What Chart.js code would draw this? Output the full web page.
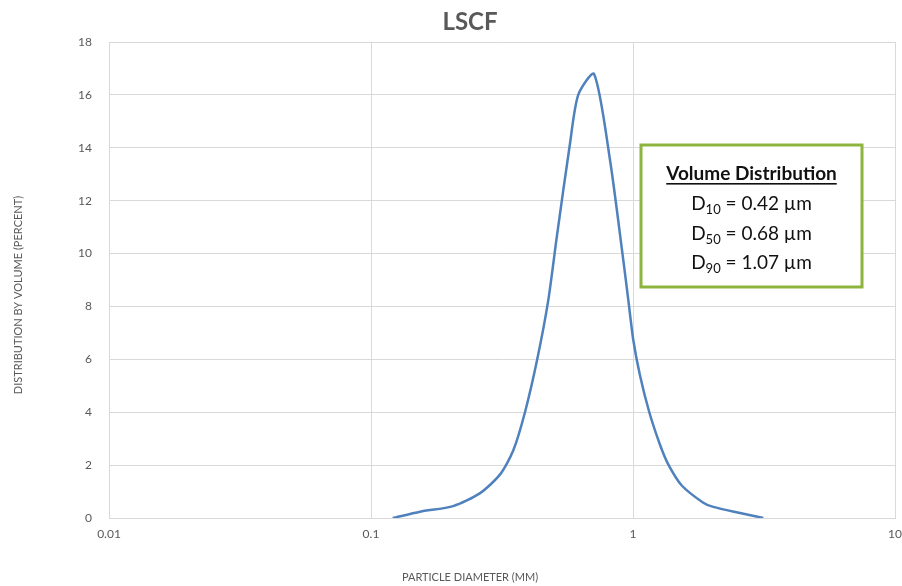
<!DOCTYPE html>
<html>
<head>
<meta charset="utf-8">
<script src="https://cdn.jsdelivr.net/npm/chart.js@4/dist/chart.umd.min.js"></script>
<style>
html,body{margin:0;padding:0;background:#fff;}
#wrap{width:902px;height:586px;}
</style>
</head>
<body>
<div id="wrap"><canvas id="c" width="902" height="586"></canvas></div>
<script>
// ---- data ----
const diameters = [0.121, 0.154, 0.206, 0.26, 0.311, 0.349, 0.387, 0.431, 0.475, 0.512, 0.575, 0.618, 0.71, 0.817, 0.918, 0.96, 1.0025, 1.063, 1.154, 1.268, 1.36, 1.535, 1.855, 2.025, 2.561, 3.144];
const volumePct = [0, 0.24, 0.45, 0.93, 1.65, 2.55, 4.0, 6.0, 8.24, 10.64, 14.17, 16.0, 16.79, 13.54, 9.76, 8.23, 6.73, 5.4, 4.0, 2.77, 2.05, 1.23, 0.58, 0.42, 0.19, 0];
const xTicks = [0.01, 0.1, 1, 10];
const yTicks = [0, 2, 4, 6, 8, 10, 12, 14, 16, 18];
const chartTitle = "LSCF";
const xTitle = "PARTICLE DIAMETER (MM)";
const yTitle = "DISTRIBUTION BY VOLUME (PERCENT)";
const boxTitle = "Volume Distribution";
const boxRows = [["10", "0.42"], ["50", "0.68"], ["90", "1.07"]];

const points = diameters.map((d, i) => ({x: d, y: volumePct[i]}));
const FONT = "Lato, 'Open Sans', sans-serif";
const GREY = "#595959";

const decor = {
  id: 'decor',
  afterDraw(chart) {
    const ctx = chart.ctx;
    ctx.save();
    ctx.fillStyle = GREY;
    ctx.textAlign = 'center';
    ctx.textBaseline = 'middle';
    ctx.font = "bold 24px " + FONT;
    ctx.fillText(chartTitle, 470, 22);
    ctx.font = "11px " + FONT;
    ctx.fillText(xTitle, 470, 577);
    ctx.save();
    ctx.translate(18, 295);
    ctx.rotate(-Math.PI / 2);
    ctx.fillText(yTitle, 0, 0);
    ctx.restore();

    const bx = 641, by = 145, bw = 221, bh = 142;
    ctx.fillStyle = '#fff';
    ctx.fillRect(bx, by, bw, bh);
    ctx.strokeStyle = '#8db43e';
    ctx.lineWidth = 3;
    ctx.strokeRect(bx, by, bw, bh);
    const cx = bx + bw / 2;
    ctx.fillStyle = '#111';
    ctx.textBaseline = 'alphabetic';
    ctx.font = "bold 19px " + FONT;
    ctx.textAlign = 'center';
    ctx.fillText(boxTitle, cx, 180);
    const tw = ctx.measureText(boxTitle).width;
    ctx.fillRect(cx - tw / 2, 183, tw, 1.6);
    const bigF = "19px " + FONT, subF = "13px " + FONT;
    boxRows.forEach((r, i) => {
      const base = 210 + i * 29.5;
      ctx.font = bigF;
      const wD = ctx.measureText("D").width;
      const rest = " = " + r[1] + " \u00b5m";
      const wR = ctx.measureText(rest).width;
      ctx.font = subF;
      const wS = ctx.measureText(r[0]).width;
      const total = wD + wS + wR;
      let x0 = cx - total / 2;
      ctx.textAlign = 'left';
      ctx.font = bigF;
      ctx.fillText("D", x0, base);
      ctx.font = subF;
      ctx.fillText(r[0], x0 + wD, base + 4);
      ctx.font = bigF;
      ctx.fillText(rest, x0 + wD + wS, base);
    });
    ctx.restore();
  }
};

new Chart(document.getElementById('c'), {
  type: 'scatter',
  data: {
    datasets: [{
      data: points,
      showLine: true,
      borderColor: '#4f81bd',
      borderWidth: 2.5,
      pointRadius: 0,
      tension: 0.25,
      fill: false
    }]
  },
  options: {
    responsive: false,
    animation: false,
    layout: {padding: {left: 0, right: 7, top: 42, bottom: 0}},
    plugins: {legend: {display: false}, title: {display: false}, tooltip: {enabled: false}},
    scales: {
      x: {
        type: 'logarithmic',
        min: 0.01, max: 10,
        afterBuildTicks(scale) { scale.ticks = xTicks.map(v => ({value: v})); },
        afterFit(scale) { scale.height = 68; scale.paddingRight = 0; scale.paddingLeft = 0; },
        grid: {color: '#d9d9d9', lineWidth: 1, drawTicks: false},
        border: {color: '#d9d9d9'},
        ticks: {
          color: GREY, font: {family: FONT, size: 12}, padding: 9,
          maxRotation: 0, autoSkip: false,
          callback: (v) => String(v)
        }
      },
      y: {
        min: 0, max: 18,
        afterBuildTicks(scale) { scale.ticks = yTicks.map(v => ({value: v})); },
        afterFit(scale) { scale.width = 109; scale.paddingTop = 0; scale.paddingBottom = 0; },
        grid: {color: '#d9d9d9', lineWidth: 1, drawTicks: false},
        border: {color: '#d9d9d9'},
        ticks: {color: GREY, font: {family: FONT, size: 12}, padding: 17}
      }
    }
  },
  plugins: [decor]
});
</script>
</body>
</html>
